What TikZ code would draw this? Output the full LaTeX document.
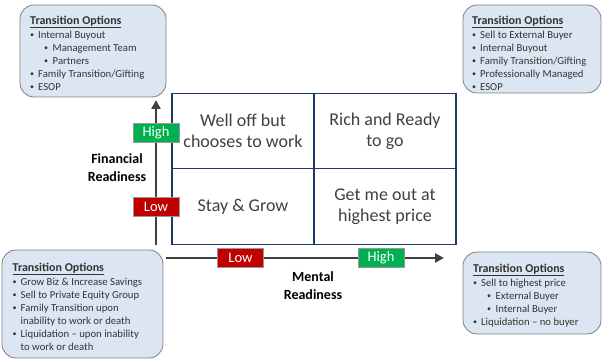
\documentclass[tikz,border=0pt]{standalone}
\usepackage{fontspec}
\setmainfont{Carlito}
\usetikzlibrary{arrows.meta}
\definecolor{boxfill}{HTML}{DCE6F2}
\definecolor{boxline}{HTML}{808080}
\definecolor{gridline}{HTML}{1F3864}
\definecolor{axisgray}{HTML}{404040}
\definecolor{hgreen}{HTML}{00B050}
\definecolor{lred}{HTML}{C00000}
\definecolor{qtext}{HTML}{404040}
\newcommand{\dotmark}{\raisebox{0.6pt}{\fontsize{8}{8}\selectfont•}}
\newcommand{\bul}{\makebox[8pt][l]{\dotmark}}
\newcommand{\sbul}{\hspace*{14pt}\makebox[8.5pt][l]{\dotmark}}
\newcommand{\cont}{\hspace*{8pt}}
\newcommand{\ttl}[1]{{\fontsize{12}{13}\selectfont\textbf{\underline{#1}}}}
\tikzset{
  optbox/.style={draw=boxline, fill=boxfill, rounded corners=14pt, line width=0.8pt, inner sep=0pt},
  opttext/.style={anchor=north west, align=left, inner sep=0pt, font=\fontsize{10.7}{13}\selectfont, text=axisgray!80!black},
  quad/.style={draw=gridline, line width=1.4pt, inner sep=0pt, minimum width=142pt, minimum height=75.5pt, align=center, text=qtext, font=\fontsize{18}{21}\selectfont},
  axis/.style={draw=axisgray, line width=2.6pt, -{Triangle[length=9pt,width=9pt]}},
  tag/.style={inner sep=0pt, minimum width=46pt, minimum height=19pt, text=white, font=\fontsize{14.5}{16}\selectfont, draw=black!40, line width=0.4pt},
  axlabel/.style={align=center, font=\bfseries\fontsize{14}{18}\selectfont, text=black}
}
\begin{document}
\begin{tikzpicture}[x=1pt,y=-1pt]
\useasboundingbox (0,0) rectangle (603,361);
% option boxes
\node[optbox, minimum width=146pt, minimum height=92pt] (tlbox) at (93,51) {};
\node[opttext] (tltext) at (30,15.5) {\ttl{Transition Options}\\[1pt]
\bul Internal Buyout\\
\sbul Management Team\\
\sbul Partners\\
\bul Family Transition/Gifting\\
\bul ESOP};
\node[optbox, minimum width=138pt, minimum height=88pt] (trbox) at (532,49) {};
\node[opttext] (trtext) at (472,15.5) {\ttl{Transition Options}\\[1pt]
\bul Sell to External Buyer\\
\bul Internal Buyout\\
\bul Family Transition/Gifting\\
\bul Professionally Managed\\
\bul ESOP};
\node[optbox, minimum width=161pt, minimum height=108pt] (blbox) at (82.5,304) {};
\node[opttext] (bltext) at (12.5,262.5) {\ttl{Transition Options}\\[1pt]
\bul Grow Biz \& Increase Savings\\
\bul Sell to Private Equity Group\\
\bul Family Transition upon\\
\cont inability to work or death\\
\bul Liquidation -- upon inability\\
\cont to work or death};
\node[optbox, minimum width=138pt, minimum height=82pt] (brbox) at (532,293) {};
\node[opttext] (brtext) at (473,263.5) {\ttl{Transition Options}\\[1pt]
\bul Sell to highest price\\
\sbul External Buyer\\
\sbul Internal Buyer\\
\bul Liquidation -- no buyer};
% quadrants
\node[quad] (q1) at (243,131) {Well off but\\chooses to work};
\node[quad] (q2) at (385,131) {Rich and Ready\\to go};
\node[quad] (q3) at (243,206.5) {Stay \& Grow};
\node[quad] (q4) at (385,206.5) {Get me out at\\highest price};
% axes
\coordinate (vbot) at (156,245);
\coordinate (vtop) at (156,100);
\coordinate (hleft) at (166,258);
\coordinate (hright) at (444,258);
\draw[axis] (vbot) -- (vtop);
\draw[axis] (hleft) -- (hright);
% tags
\node[tag, fill=hgreen] (vhigh) at (156,132.5) {High};
\node[tag, fill=lred] (vlow) at (156,206.5) {Low};
\node[tag, fill=lred] (hlow) at (240.5,258) {Low};
\node[tag, fill=hgreen] (hhigh) at (381,258) {High};
% axis labels
\node[axlabel] (fin) at (117,168) {Financial\\Readiness};
\node[axlabel] (men) at (313,286) {Mental\\Readiness};
\end{tikzpicture}
\end{document}
